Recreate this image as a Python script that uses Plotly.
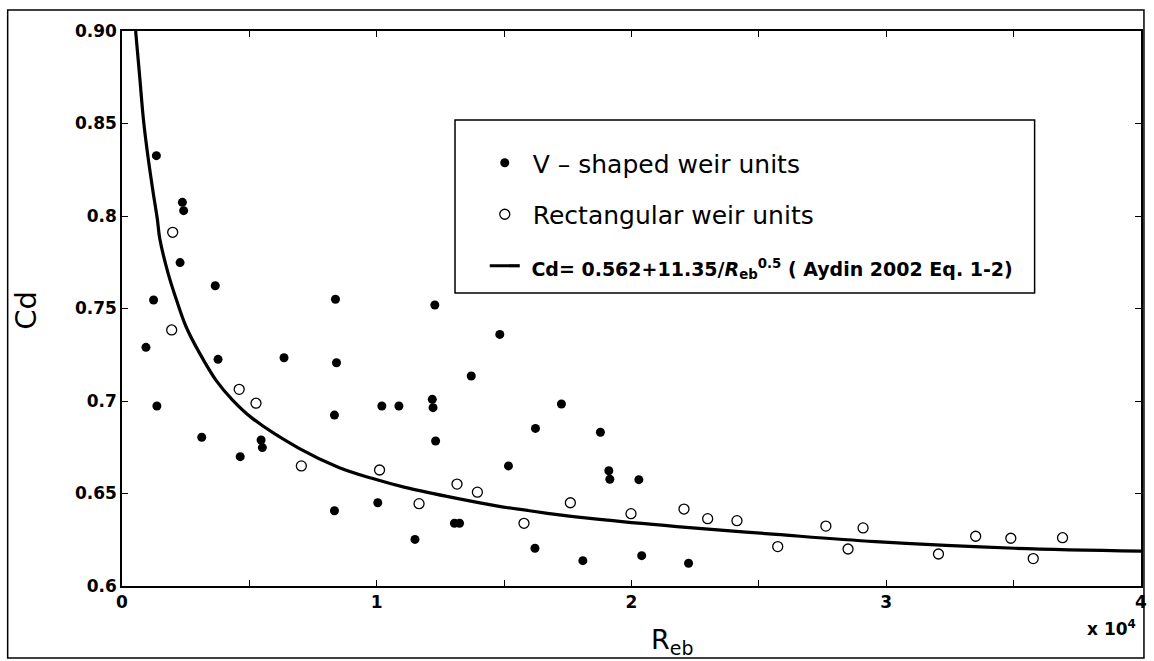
import plotly.graph_objects as go

# ---- data (Reb in raw units, Cd) ----
v_reb = [940, 1240, 1350, 1370, 2280, 2370, 2420, 3130, 3660, 3770, 4640, 5460, 5510,
         6360, 8340, 8340, 8380, 8420, 10040, 10200, 10870, 11500, 12180, 12210, 12310,
         12280, 13050, 13250, 13710, 14830, 15170, 16210, 16230, 17250, 18090, 18780,
         19110, 19150, 20290, 20400, 22240]
v_cd = [0.729, 0.7546, 0.8326, 0.6973, 0.7748, 0.8074, 0.8029, 0.6804, 0.7623, 0.7225,
        0.6699, 0.6789, 0.6748, 0.7234, 0.6407, 0.6924, 0.755, 0.7207, 0.6450, 0.6973,
        0.6973, 0.6252, 0.7009, 0.6964, 0.6784, 0.7519, 0.6339, 0.6339, 0.7135, 0.7360,
        0.6649, 0.6204, 0.6852, 0.6984, 0.6137, 0.6831, 0.6623, 0.6577, 0.6575, 0.6164,
        0.6123]

r_reb = [1990, 1950, 4600, 5260, 7040, 10110, 11660, 13150, 13950, 15780, 17600, 19980,
         22060, 22990, 24140, 25740, 27630, 28500, 29090, 32050, 33510, 34890, 35770, 36920]
r_cd = [0.7912, 0.7384, 0.7063, 0.6988, 0.6649, 0.6627, 0.6445, 0.6551, 0.6507, 0.6339,
        0.6450, 0.6391, 0.6416, 0.6364, 0.6353, 0.6213, 0.6324, 0.6200, 0.6314, 0.6173,
        0.6269, 0.6258, 0.6148, 0.6261]

curve_reb = [535, 690, 850, 1030, 1220, 1390, 1480, 1810, 2130, 2520, 3040, 3700, 4340,
             5120, 6950, 8510, 9810, 11110, 12800, 14750, 16700, 18650, 21780, 25680,
             29580, 35040, 40000]
curve_cd = [0.900, 0.876, 0.851, 0.831, 0.813, 0.798, 0.788, 0.769, 0.755, 0.740, 0.726,
            0.711, 0.7005, 0.6906, 0.6744, 0.6641, 0.6582, 0.6533, 0.6483, 0.6432, 0.6393,
            0.6361, 0.6321, 0.6279, 0.6240, 0.6204, 0.6189]

x_tickvals = [0, 5000, 10000, 15000, 20000, 25000, 30000, 35000, 40000]
x_ticktext = ["0", "", "1", "", "2", "", "3", "", "4"]
y_tickvals = [0.6, 0.65, 0.7, 0.75, 0.8, 0.85, 0.9]
y_ticktext = ["0.6", "0.65", "0.7", "0.75", "0.8", "0.85", "0.90"]

names = [" V \u2013 shaped weir units", " Rectangular weir units",
         "<span style='font-size:19px'><b> Cd= 0.562+11.35/<i>R</i><sub>eb</sub><sup>0.5</sup>"
         " ( Aydin 2002 Eq. 1-2)</b></span>"]

FONT = "DejaVu Sans"

fig = go.Figure()
fig.add_trace(go.Scatter(x=v_reb, y=v_cd, mode="markers", name=names[0], legendgroup="a",
                         marker=dict(symbol="circle", size=9, color="black",
                                     line=dict(width=0))))
fig.add_trace(go.Scatter(x=r_reb, y=r_cd, mode="markers", name=names[1], legendgroup="b",
                         marker=dict(symbol="circle-open", size=10, color="black",
                                     line=dict(width=1.3, color="black"))))
fig.add_trace(go.Scatter(x=curve_reb, y=curve_cd, mode="lines", name=names[2],
                         legendgroup="c", line=dict(color="black", width=3.2, shape="spline")))

axis_common = dict(showline=True, linecolor="black", linewidth=1.5, mirror="ticks",
                   ticks="inside", ticklen=6, tickwidth=1, tickcolor="black",
                   showgrid=False, zeroline=False,
                   tickfont=dict(family=FONT, size=17, color="black", weight="bold"))

fig.update_xaxes(range=[0, 40000], tickmode="array", tickvals=x_tickvals,
                 ticktext=x_ticktext, **axis_common)
fig.update_yaxes(range=[0.6, 0.9], tickmode="array", tickvals=y_tickvals,
                 ticktext=y_ticktext, **axis_common)

# legend frame
fig.add_shape(type="rect", xref="paper", yref="paper", x0=0.3268, x1=0.8956,
              y0=0.5279, y1=0.8396, line=dict(color="black", width=1.5),
              fillcolor="white", layer="below")
# outer frame
fig.add_shape(type="rect", xref="paper", yref="paper", x0=-0.1122, x1=1.0029,
              y0=-0.1297, y1=1.0378, line=dict(color="black", width=1.5))

fig.add_annotation(text="Cd", xref="paper", yref="paper", x=-0.0937, y=0.497,
                   xanchor="center", yanchor="middle",
                   textangle=-90, showarrow=False,
                   font=dict(family=FONT, size=29, color="black"))
fig.add_annotation(text="R<sub>eb</sub>", xref="paper", yref="paper", x=0.5395, y=-0.1,
                   xanchor="center", yanchor="middle",
                   showarrow=False, font=dict(family=FONT, size=27, color="black"))
fig.add_annotation(text="<b>x 10<sup>4</sup></b>", xref="paper", yref="paper", x=0.997,
                   y=-0.0757, xanchor="right", yanchor="middle", showarrow=False,
                   font=dict(family=FONT, size=17, color="black"))

fig.update_layout(
    width=1154, height=661,
    margin=dict(l=122, r=7, t=31, b=75),
    paper_bgcolor="white", plot_bgcolor="white",
    showlegend=True,
    legend=dict(x=0.356, y=0.8036, xanchor="left", yanchor="top",
                bgcolor="rgba(0,0,0,0)", borderwidth=0, tracegroupgap=16,
                traceorder="grouped",
                font=dict(family=FONT, size=25, color="black")),
)

fig.write_html("out.html")
